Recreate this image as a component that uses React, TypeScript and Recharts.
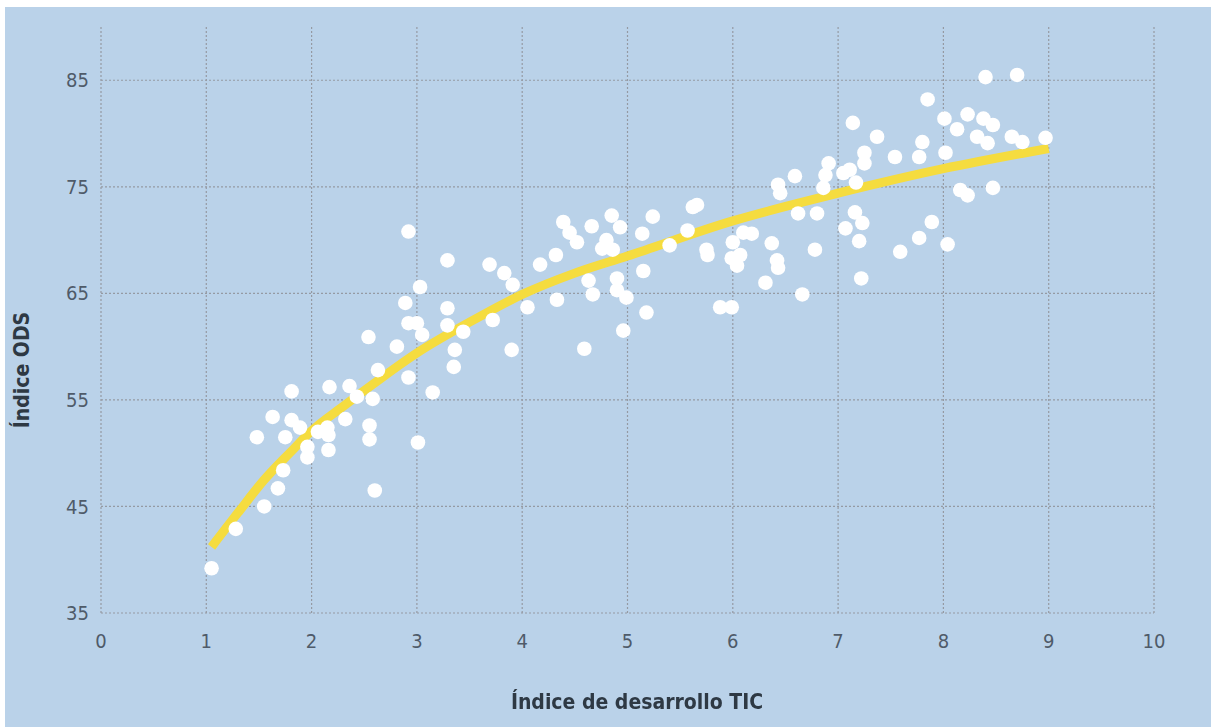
import { ComposedChart, Scatter, Line, XAxis, YAxis, CartesianGrid } from "recharts"

// puntos por país: índice de desarrollo TIC (x) vs índice ODS (y)
const countryTic = [
  1.05, 1.28, 1.48, 1.55, 1.63, 1.68, 1.73, 1.75, 1.81, 1.81, 1.89, 1.96, 1.96, 2.06, 2.15, 2.16, 2.16, 2.17,
  2.32, 2.36, 2.43, 2.54, 2.55, 2.55, 2.58, 2.6, 2.63, 2.81, 2.89, 2.92, 2.92, 2.92, 3.0, 3.01, 3.03, 3.05,
  3.15, 3.29, 3.29, 3.29, 3.35, 3.36, 3.44, 3.69, 3.72, 3.83, 3.9, 3.91, 4.05, 4.17, 4.32, 4.33, 4.39, 4.45,
  4.52, 4.59, 4.63, 4.66, 4.67, 4.76, 4.8, 4.85, 4.86, 4.9, 4.9, 4.93, 4.96, 4.99, 5.14, 5.15, 5.18, 5.24,
  5.4, 5.57, 5.62, 5.66, 5.75, 5.76, 5.88, 5.99, 5.99, 6.0, 6.04, 6.07, 6.1, 6.18, 6.31, 6.37, 6.42, 6.43,
  6.43, 6.45, 6.59, 6.62, 6.66, 6.78, 6.8, 6.86, 6.88, 6.91, 7.05, 7.07, 7.11, 7.14, 7.16, 7.17, 7.2, 7.22,
  7.23, 7.25, 7.25, 7.37, 7.54, 7.59, 7.77, 7.77, 7.8, 7.85, 7.89, 8.01, 8.02, 8.04, 8.13, 8.16, 8.23, 8.23,
  8.32, 8.38, 8.4, 8.42, 8.47, 8.47, 8.65, 8.7, 8.75, 8.97,
]
const countryOds = [
  39.2, 42.9, 51.5, 45.0, 53.4, 46.7, 48.4, 51.5, 55.8, 53.1, 52.4, 50.6, 49.6, 52.0, 52.4, 51.7, 50.3, 56.2,
  53.2, 56.3, 55.3, 60.9, 52.6, 51.3, 55.1, 46.5, 57.8, 60.0, 64.1, 70.8, 62.2, 57.1, 62.2, 51.0, 65.6, 61.1,
  55.7, 68.1, 63.6, 62.0, 58.1, 59.7, 61.4, 67.7, 62.5, 66.9, 59.7, 65.8, 63.7, 67.7, 68.6, 64.4, 71.7, 70.7,
  69.8, 59.8, 66.2, 71.3, 64.9, 69.2, 70.0, 72.3, 69.1, 66.4, 65.3, 71.2, 61.5, 64.6, 70.6, 67.1, 63.2, 72.2,
  69.5, 70.9, 73.1, 73.3, 69.1, 68.6, 63.7, 63.7, 68.3, 69.8, 67.6, 68.6, 70.7, 70.6, 66.0, 69.7, 68.1, 67.4,
  75.2, 74.4, 76.0, 72.5, 64.9, 69.1, 72.5, 74.9, 76.1, 77.2, 76.3, 71.1, 76.6, 81.0, 72.6, 75.4, 69.9, 66.4,
  71.6, 78.2, 77.2, 79.7, 77.8, 68.9, 77.8, 70.2, 79.2, 83.2, 71.7, 81.4, 78.2, 69.6, 80.4, 74.7, 81.8, 74.2,
  79.7, 81.4, 85.3, 79.1, 80.8, 74.9, 79.7, 85.5, 79.2, 79.6,
]

// curva de tendencia
const trendTic = [1.05, 1.3, 1.55, 1.8, 2, 2.3, 2.6, 3, 3.5, 4, 4.5, 5, 6, 7, 8, 9]
const trendOds = [41.2, 44.4, 47.5, 50.1, 52.1, 54.4, 56.6, 59.4, 62.3, 64.9, 66.9, 68.5, 71.8, 74.4, 76.7, 78.6]

const xTicks = [0, 1, 2, 3, 4, 5, 6, 7, 8, 9, 10]
const yTicks = [35, 45, 55, 65, 75, 85]

const dots = countryTic.map((x, i) => ({ x, y: countryOds[i] }))
const trend = trendTic.map((x, i) => ({ x, y: trendOds[i] }))

const font = "'DejaVu Sans Condensed', 'Liberation Sans Narrow', 'DejaVu Sans', sans-serif"
const tickStyle = { fill: "#4f5b69", fontSize: 20, fontFamily: font, fontStretch: "condensed" as const }

const WhiteDot = (props: any) => <circle cx={props.cx} cy={props.cy} r={7.3} fill="#ffffff" />

export default function App() {
  return (
    <div
      style={{
        position: "fixed",
        left: 5,
        top: 7,
        width: 1206,
        height: 720,
        background: "#bad2e9",
      }}
    >
      <ComposedChart width={1206} height={720} margin={{ top: 20, right: 57, left: 0, bottom: 0 }}>
        <CartesianGrid stroke="#959aa3" strokeDasharray="2 2" strokeWidth={1.2} horizontalValues={yTicks} verticalValues={xTicks} />
        <XAxis
          type="number"
          dataKey="x"
          domain={[0, 10]}
          ticks={xTicks}
          axisLine={false}
          tickLine={false}
          tickSize={0}
          tickMargin={21}
          height={114}
          tick={tickStyle}
          allowDataOverflow
        />
        <YAxis
          type="number"
          dataKey="y"
          domain={[35, 90]}
          ticks={yTicks}
          axisLine={false}
          tickLine={false}
          tickSize={0}
          tickMargin={12}
          width={96}
          tick={tickStyle}
          allowDataOverflow
        />
        <Scatter data={dots} dataKey="y" shape={WhiteDot} isAnimationActive={false} />
        <Line
          data={trend}
          dataKey="y"
          type="monotone"
          stroke="#f5dc3f"
          strokeWidth={9}
          dot={false}
          activeDot={false}
          isAnimationActive={false}
        />
      </ComposedChart>
      <div
        style={{
          position: "absolute",
          left: 0,
          top: 682,
          width: 1264,
          textAlign: "center",
          fontFamily: font,
          fontStretch: "condensed",
          fontWeight: "bold",
          fontSize: 21,
          color: "#2e3944",
          lineHeight: "26px",
        }}
      >
        Índice de desarrollo TIC
      </div>
      <div
        style={{
          position: "absolute",
          left: 17,
          top: 363,
          width: 0,
          height: 0,
        }}
      >
        <div
          style={{
            position: "absolute",
            left: -100,
            top: -13,
            width: 200,
            textAlign: "center",
            transform: "rotate(-90deg)",
            fontFamily: font,
            fontStretch: "condensed",
            fontWeight: "bold",
            fontSize: 21,
            color: "#2e3944",
            lineHeight: "26px",
          }}
        >
          Índice ODS
        </div>
      </div>
    </div>
  )
}
